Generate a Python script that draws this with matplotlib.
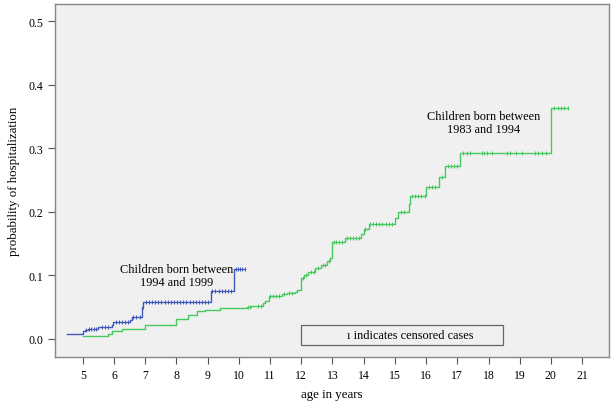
import numpy as np
import matplotlib
matplotlib.use("Agg")
import matplotlib.pyplot as plt
from matplotlib.patches import Rectangle

plt.rcParams['font.family'] = ['Liberation Serif', 'DejaVu Serif']

# children born 1994-1999 (blue)
blue_t = [4.48, 5.0, 5.07, 5.17, 5.5, 5.92, 5.98, 6.5, 6.57, 6.89, 6.94, 9.1, 9.83]
blue_p = [0.007, 0.012, 0.0146, 0.016, 0.019, 0.0225, 0.026, 0.030, 0.035, 0.050, 0.058, 0.075, 0.110]
blue_end = 10.2
blue_cens = [5.1, 5.2, 5.25, 5.35, 5.42, 5.6, 5.7, 5.8, 6.05, 6.15, 6.25, 6.35, 6.45,
             6.62, 6.72, 6.82, 6.92, 7.02, 7.12, 7.22, 7.32, 7.42, 7.52, 7.62, 7.72,
             7.82, 7.92, 8.02, 8.12, 8.22, 8.32, 8.42, 8.52, 8.62, 8.72, 8.82, 8.92,
             9.02, 9.15, 9.25, 9.35, 9.45, 9.55, 9.65, 9.75, 9.9, 9.97, 10.04, 10.11, 10.2]

# children born 1983-1994 (green)
green_t = [5.0, 5.82, 5.92, 6.25, 7.0, 8.0, 8.38, 8.65, 8.92, 9.38, 10.26, 10.4,
           10.77, 10.84, 10.95, 11.38, 11.54, 11.8, 11.86, 12.0, 12.1, 12.2, 12.45,
           12.63, 12.82, 12.93, 13.0, 13.4, 13.93, 14.0, 14.16, 15.0, 15.09, 15.44,
           15.5, 16.0, 16.4, 16.6, 17.1, 20.0]
green_p = [0.005, 0.008, 0.012, 0.016, 0.022, 0.031, 0.038, 0.0435, 0.0455, 0.0487,
           0.0508, 0.0524, 0.056, 0.060, 0.068, 0.0707, 0.072, 0.0733, 0.0776, 0.096,
           0.1005, 0.106, 0.111, 0.116, 0.123, 0.127, 0.153, 0.158, 0.165, 0.173,
           0.180, 0.190, 0.200, 0.212, 0.224, 0.2385, 0.254, 0.2715, 0.292, 0.363]
green_end = 20.55
green_cens = [10.3, 10.35, 10.6, 10.7, 11.0, 11.1, 11.2, 11.3, 11.45, 11.6, 11.7,
              12.05, 12.15, 12.3, 12.4, 12.55, 12.7, 12.75, 12.88, 13.05, 13.1, 13.2,
              13.3, 13.45, 13.55, 13.65, 13.75, 13.85, 14.05, 14.2, 14.3, 14.4, 14.5,
              14.6, 14.7, 14.8, 14.9, 15.2, 15.3, 15.55, 15.65, 15.75, 15.85, 15.95,
              16.1, 16.2, 16.3, 16.5, 16.7, 16.8, 16.9, 17.0, 17.19, 17.3, 17.4, 17.78,
              17.87, 17.96, 18.1, 18.58, 18.69, 18.87, 19.08, 19.5, 19.58, 19.72,
              19.83, 20.1, 20.22, 20.33, 20.43, 20.55]

x_ticks = list(range(5, 22))
y_ticks = [0.0, 0.1, 0.2, 0.3, 0.4, 0.5]


def step_value(times, probs, c):
    i = np.searchsorted(times, c, side='right') - 1
    return np.array(probs)[i]


fig = plt.figure(figsize=(6.15, 4.06), dpi=100)
ax = fig.add_axes([0.089, 0.119, 0.9017, 0.869])
ax.set_facecolor('#f0f0f0')

for t, p, end, cens, col in [(blue_t, blue_p, blue_end, blue_cens, '#4058b8'),
                             (green_t, green_p, green_end, green_cens, '#45c85e')]:
    ax.step(np.append(t, end), np.append(p, p[-1]), where='post', color=col, lw=1.0)
    ax.plot(cens, step_value(t, p, cens), ls='none', marker='|', ms=3.2, mew=0.7, color=col)

ax.text(8.0, 0.1, 'Children born between\n1994 and 1999', ha='center', va='center',
        fontsize=8.8, linespacing=1.15)
ax.text(17.85, 0.34, 'Children born between\n1983 and 1994', ha='center', va='center',
        fontsize=8.8, linespacing=1.15)

ax.add_patch(Rectangle((12.0, -0.009), 6.48, 0.0315, fill=False, ec='#666666', lw=0.9))
ax.text(15.5, 0.0068, '\u0131 indicates censored cases', ha='center', va='center', fontsize=8.8)

ax.set_xlim(4.1, 21.87)
ax.set_ylim(-0.028, 0.527)
ax.set_xticks(x_ticks)
ax.set_yticks(y_ticks)
ax.set_yticklabels([f'{v:.1f}' for v in y_ticks])
ax.tick_params(direction='out', width=0.8, color='#555555', labelsize=8.5)
ax.tick_params(axis='x', length=5.3, pad=3.5)
ax.tick_params(axis='y', length=5.0, pad=3.5)

for s in ax.spines.values():
    s.set_color('#888888')
    s.set_linewidth(1.0)

ax.set_xlabel('age in years', fontsize=9.3, labelpad=5)
ax.set_ylabel('probability of hospitalization', fontsize=9.3, labelpad=6)

fig.savefig('out.png', dpi=100)
plt.close(fig)
